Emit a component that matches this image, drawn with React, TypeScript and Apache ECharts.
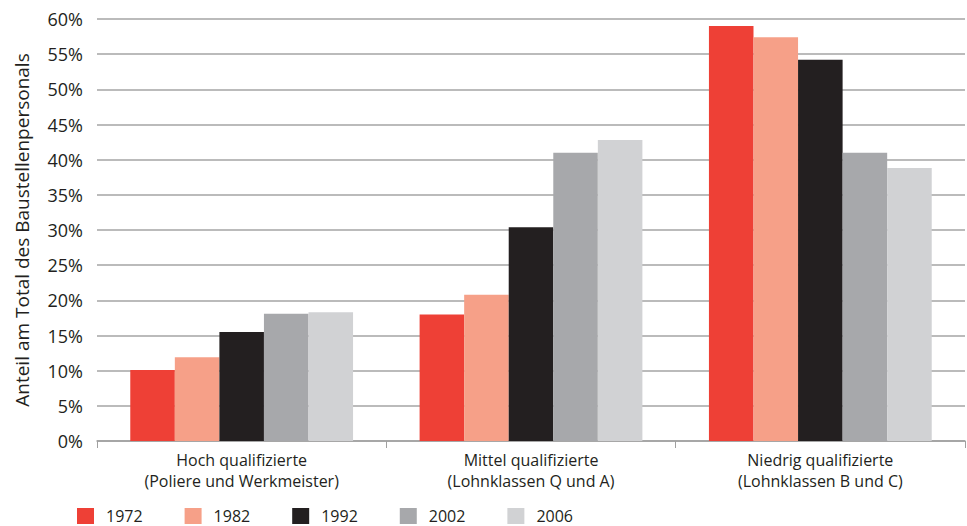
import React, { useEffect, useRef } from "react";
import * as echarts from "echarts";

const categories = [
  "Hoch qualifizierte\n(Poliere und Werkmeister)",
  "Mittel qualifizierte\n(Lohnklassen Q und A)",
  "Niedrig qualifizierte\n(Lohnklassen B und C)",
];
const seriesNames = ["1972", "1982", "1992", "2002", "2006"];
const v1972 = [10.1, 18.0, 59.0];
const v1982 = [11.9, 20.8, 57.4];
const v1992 = [15.5, 30.4, 54.2];
const v2002 = [18.1, 41.0, 41.0];
const v2006 = [18.3, 42.8, 38.8];
const seriesValues = [v1972, v1982, v1992, v2002, v2006];
const colors = ["#EE4036", "#F6A088", "#231F20", "#A7A8AB", "#D1D2D4"];

const font = "'Open Sans', 'Noto Sans', sans-serif";
const textColor = "#231F20";

export default function App() {
  const ref = useRef<HTMLDivElement>(null);
  useEffect(() => {
    if (!ref.current) return;
    const chart = echarts.init(ref.current, undefined, { renderer: "svg" });
    chart.setOption({
      animation: false,
      color: colors,
      textStyle: { fontFamily: font },
      grid: { left: 97, right: 2, top: 19, bottom: 85, outerBoundsMode: "none", containLabel: false },
      legend: {
        left: 77,
        top: 508,
        padding: 0,
        itemWidth: 17,
        itemHeight: 16,
        itemGap: 42,
        icon: "rect",
        textStyle: { fontSize: 16, color: textColor, fontFamily: font, padding: [0, 0, 0, 7] },
        data: seriesNames,
      },
      xAxis: {
        type: "category",
        data: categories,
        axisLine: { show: true, lineStyle: { color: "#A0A0A0", width: 1.5 } },
        axisTick: { show: true, length: 7, lineStyle: { color: "#A0A0A0", width: 1 } },
        axisLabel: {
          fontSize: 16,
          color: textColor,
          lineHeight: 21,
          margin: 8,
          fontFamily: font,
        },
      },
      yAxis: {
        type: "value",
        min: 0,
        max: 60,
        interval: 5,
        name: "Anteil am Total des Baustellenpersonals",
        nameLocation: "middle",
        nameGap: 66,
        nameTextStyle: { fontSize: 19, color: textColor, fontFamily: font },
        axisLine: { show: false },
        axisTick: { show: false },
        axisLabel: {
          formatter: "{value}%",
          fontSize: 18,
          color: textColor,
          margin: 14,
          fontFamily: font,
        },
        splitLine: { lineStyle: { color: "#A5A5A5", width: 1.5 } },
      },
      series: seriesNames.map((name, i) => ({
        name,
        type: "bar",
        data: seriesValues[i],
        barGap: "0%",
        barCategoryGap: "23%",
        itemStyle: { color: colors[i] },
      })),
    });
    return () => chart.dispose();
  }, []);
  return <div ref={ref} style={{ width: 967, height: 526, position: "absolute", left: 0, top: 0 }} />;
}
